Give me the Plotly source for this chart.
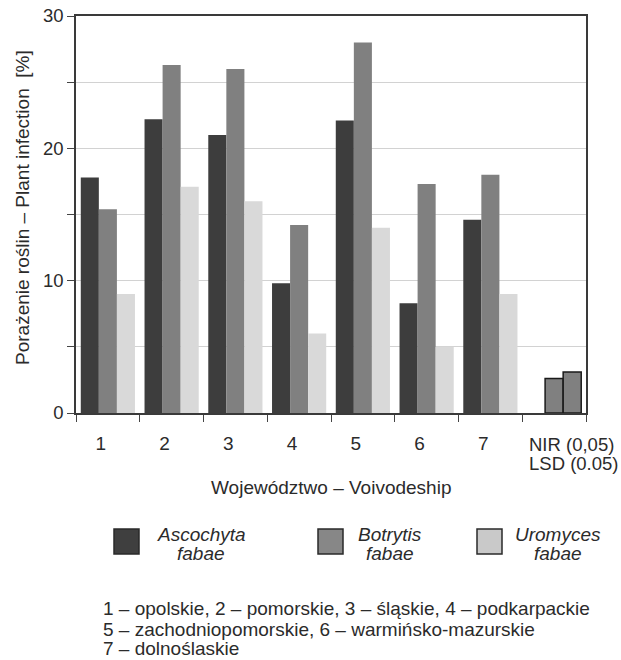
import plotly.graph_objects as go

categories = ["1", "2", "3", "4", "5", "6", "7", "NIR"]
ascochyta = [17.8, 22.2, 21.0, 9.8, 22.1, 8.3, 14.6, None]
botrytis = [15.4, 26.3, 26.0, 14.2, 28.0, 17.3, 18.0, 2.6]
uromyces = [9.0, 17.1, 16.0, 6.0, 14.0, 5.0, 9.0, 3.1]
tick_labels = ["1", "2", "3", "4", "5", "6", "7", ""]
lsd_lines = ["NIR (0,05)", "LSD (0.05)"]
y_tickvals = [0, 5, 10, 15, 20, 25, 30]
y_ticktext = ["0", "", "10", "", "20", "", "30"]
x_title = "Województwo – Voivodeship"
y_title = "Porażenie roślin – Plant infection  [%]"
series_names = ["Ascochyta fabae", "Botrytis fabae", "Uromyces fabae"]
legend_lines = [("Ascochyta", "fabae"), ("Botrytis", "fabae"), ("Uromyces", "fabae")]
footnote = ["1 – opolskie, 2 – pomorskie, 3 – śląskie, 4 – podkarpackie",
            "5 – zachodniopomorskie, 6 – warmińsko-mazurskie",
            "7 – dolnoślaskie"]

FONT = "Liberation Sans, Arial, sans-serif"
DARK, MID, LIGHT = "#3d3d3d", "#808080", "#d9d9d9"
TXT = "#2b2b2b"

is_lsd = [c == "NIR" for c in categories]

fig = go.Figure()
fig.add_trace(go.Bar(x=categories, y=ascochyta, name=series_names[0],
                     marker=dict(color=DARK, line=dict(width=0))))
fig.add_trace(go.Bar(x=categories, y=botrytis, name=series_names[1],
                     marker=dict(color=MID,
                                 line=dict(color=["#1a1a1a" if l else MID for l in is_lsd],
                                           width=[1.5 if l else 0 for l in is_lsd]))))
fig.add_trace(go.Bar(x=categories, y=uromyces, name=series_names[2],
                     marker=dict(color=[MID if l else LIGHT for l in is_lsd],
                                 line=dict(color=["#1a1a1a" if l else LIGHT for l in is_lsd],
                                           width=[1.5 if l else 0 for l in is_lsd]))))

W, H = 621, 660
ML, MR, MT, MB = 76, 35, 16, 247
pw, ph = W - ML - MR, H - MT - MB

def px(xp):
    return (xp - ML) / pw

def py(yp):
    return (H - yp - MB) / ph

fig.update_layout(
    width=W, height=H,
    margin=dict(l=ML, r=MR, t=MT, b=MB),
    paper_bgcolor="white", plot_bgcolor="white",
    barmode="group", bargap=0.15, bargroupgap=0,
    showlegend=False,
    font=dict(family=FONT, size=19, color=TXT),
)
fig.update_xaxes(
    type="category", categoryorder="array", categoryarray=categories,
    tickmode="array", tickvals=categories, ticktext=tick_labels,
    tickson="boundaries", ticks="outside", ticklen=7, tickcolor="#444",
    ticklabelstandoff=12, ticklabelshift=-7,
    showline=True, linecolor="#3a3a3a", linewidth=1.5, mirror=True,
    showgrid=False, automargin=False,
    tickfont=dict(size=19, color=TXT),
)
fig.update_yaxes(
    range=[0, 30],
    tickmode="array", tickvals=y_tickvals, ticktext=y_ticktext,
    ticks="outside", ticklen=7, tickcolor="#444",
    showline=True, linecolor="#3a3a3a", linewidth=1.5, mirror=True,
    showgrid=True, gridcolor="#d2d2d2", gridwidth=1,
    zeroline=False, automargin=False,
    tickfont=dict(size=18.5, color=TXT),
)

def label(x, y, text, anchor="center", size=19, angle=0):
    fig.add_annotation(xref="paper", yref="paper", x=px(x), y=py(y), text=text,
                       showarrow=False, xanchor=anchor, yanchor="middle",
                       textangle=angle, font=dict(size=size, color=TXT))

# LSD label under the last slot
for k, t in enumerate(lsd_lines):
    label(527, 444 + 19 * k, t, anchor="left", size=18.5)

# axis titles
label(331, 488, x_title)
label(22, 208, y_title, angle=-90)

# Custom legend
sq_x = [114, 318, 477]
txt_x = [201, 390, 558]
sq_colors = ["#3f3f3f", "#878787", "#c9c9c9"]
for i in range(3):
    fig.add_shape(type="rect", xref="paper", yref="paper",
                  x0=px(sq_x[i]), x1=px(sq_x[i] + 25), y0=py(554), y1=py(529),
                  fillcolor=sq_colors[i], line=dict(color="#2a2a2a", width=1.5))
    label(txt_x[i], 534, f"<i>{legend_lines[i][0]}</i>")
    label(txt_x[i], 553, f"<i>{legend_lines[i][1]}</i>")

foot_y = [608, 629, 648.5]
for k, line in enumerate(footnote):
    label(101, foot_y[k], line, anchor="left")

fig.write_html("out.html", config={"displayModeBar": False},
               post_script="document.body.style.margin='0px';")
